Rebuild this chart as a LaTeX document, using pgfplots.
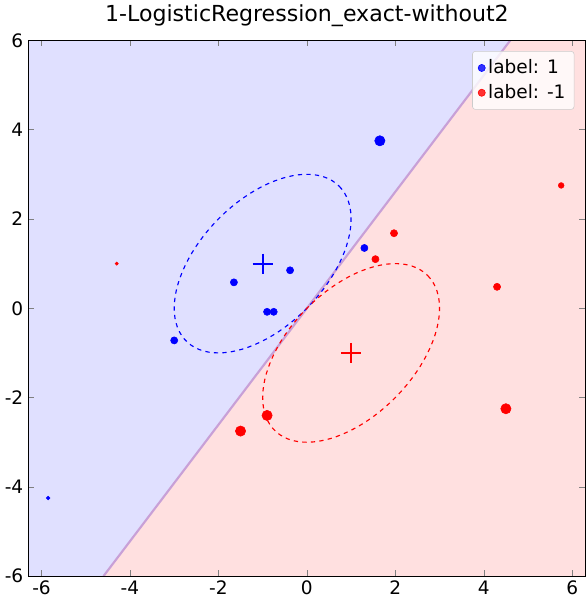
\documentclass[border=0pt]{standalone}
\usepackage{pgfplots}
\pgfplotsset{compat=1.18}
\usepackage{fontspec}
\setmainfont{DejaVu Sans}
\definecolor{bgb}{RGB}{224,224,255}
\definecolor{bgr}{RGB}{255,224,224}
\definecolor{bnd}{RGB}{200,160,215}
\begin{document}
\begin{tikzpicture}
\begin{axis}[scale only axis, width=391pt, height=376pt,
 xmin=-6.3, xmax=6.3, ymin=-6, ymax=6,
 xtick={-6,-4,-2,0,2,4,6}, ytick={-6,-4,-2,0,2,4,6},
 tick label style={font=\fontsize{13}{15}\selectfont},
 /pgf/number format/assume math mode=true,
 title={1-LogisticRegression\_exact-without2}, title style={font=\fontsize{15.5}{18}\selectfont},
 legend style={at={(0.98,0.98)},anchor=north east,font=\fontsize{13}{15}\selectfont, draw=black!20, rounded corners=2pt, fill opacity=0.8, text opacity=1, inner sep=4pt, row sep=2pt, /tikz/every even column/.append style={column sep=8pt}},
 legend cell align=left, axis on top]
\addplot[draw=none, fill=bgb, forget plot] coordinates {(-6.3,-6) (-4.6,-6) (4.6,6) (-6.3,6)} -- cycle;
\addplot[draw=none, fill=bgr, forget plot] coordinates {(-4.6,-6) (6.3,-6) (6.3,6) (4.6,6)} -- cycle;
\addplot[bnd, line width=1.5pt, forget plot] coordinates {(-4.6,-6) (4.6,6)};
\addplot[only marks, mark=*, blue, mark size=2.5pt] coordinates {(-1.65,0.58) (-0.9,-0.08) (-0.75,-0.08) (-0.38,0.85) (1.3,1.35) (-3,-0.72)};
\addlegendentry{label: 1}
\addplot[only marks, mark=*, red, mark size=2.5pt] coordinates {(1.97,1.68) (1.55,1.1) (4.3,0.48)};
\addlegendentry{label: -1}
\addplot[only marks, mark=*, blue, mark size=1.3pt, forget plot] coordinates {(-5.85,-4.25)};
\addplot[only marks, mark=*, blue, mark size=3.6pt, forget plot] coordinates {(1.65,3.75)};
\addplot[only marks, mark=*, red, mark size=1.1pt, forget plot] coordinates {(-4.3,1.0)};
\addplot[only marks, mark=*, red, mark size=2pt, forget plot] coordinates {(5.75,2.75)};
\addplot[only marks, mark=*, red, mark size=3.6pt, forget plot] coordinates {(4.5,-2.25) (-0.9,-2.4) (-1.5,-2.75)};
\addplot[only marks, mark=+, blue, mark size=7pt, line width=1.5pt, forget plot] coordinates {(-1,1)};
\addplot[only marks, mark=+, red, mark size=7pt, line width=1.5pt, forget plot] coordinates {(1,-1)};
\addplot[blue, dashed, thick, domain=0:360, samples=90, forget plot] ({-1+sqrt(3)*cos(x)+sin(x)},{1+sqrt(3)*cos(x)-sin(x)});
\addplot[red, dashed, thick, domain=0:360, samples=90, forget plot] ({1+sqrt(3)*cos(x)+sin(x)},{-1+sqrt(3)*cos(x)-sin(x)});
\end{axis}
\end{tikzpicture}
\end{document}
